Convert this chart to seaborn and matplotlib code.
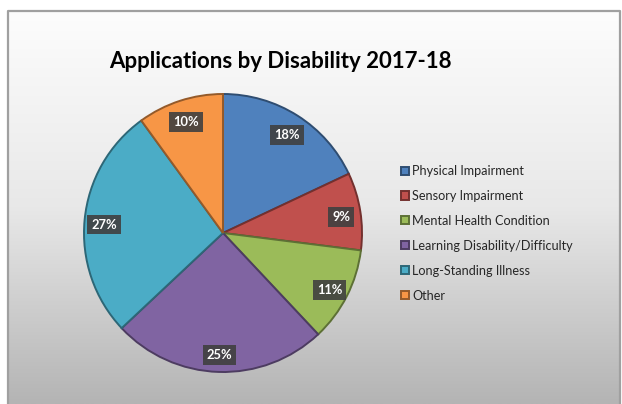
import numpy as np
import matplotlib
matplotlib.use("Agg")
import matplotlib.pyplot as plt
import matplotlib.colors as mcolors
import seaborn as sns

categories = [
    "Physical Impairment",
    "Sensory Impairment",
    "Mental Health Condition",
    "Learning Disability/Difficulty",
    "Long-Standing Illness",
    "Other",
]
shares = [18, 9, 11, 25, 27, 10]
title = "Applications by Disability 2017-18"

sns.set_theme(style="white")
plt.rcParams["font.family"] = ["Lato", "DejaVu Sans"]

palette = sns.color_palette(["#4F81BD", "#C0504D", "#9BBB59", "#8064A2", "#4BACC6", "#F79646"])

W, H = 622, 404
fig = plt.figure(figsize=(W / 100, H / 100), dpi=100)
fig.patch.set_facecolor("white")

# chart panel with vertical gray gradient and thin border
bg = fig.add_axes([0, 0, 1, 1], zorder=-5)
bg.set_xlim(0, W)
bg.set_ylim(H, 0)
bg.axis("off")
grad = np.linspace(0, 1, 256)[:, None]
cmap = mcolors.LinearSegmentedColormap.from_list("panel", ["#fdfdfd", "#e8e8e8", "#b4b4b4"])
bg.imshow(grad, extent=[8, 620, H, 11], cmap=cmap, aspect="auto", zorder=0)
bg.plot([8, 8, 620, 620], [H, 11, 11, H], color="#a0a0a0", lw=1.6, zorder=1)

# pie
cx, cy, r = 223, 233, 139
box = 141
ax = fig.add_axes([(cx - box) / W, (H - cy - box) / H, 2 * box / W, 2 * box / H])

edge_cols = [tuple(np.array(c) * 0.6) for c in palette]
wedges, _ = ax.pie(
    shares,
    colors=palette,
    startangle=90,
    counterclock=False,
    radius=r / box,
    wedgeprops=dict(linewidth=1.4),
)
for w, ec in zip(wedges, edge_cols):
    w.set_edgecolor(ec)
ax.set_xlim(-1, 1)
ax.set_ylim(-1, 1)
ax.axis("off")

# percentage labels in dark boxes
rad = r / box * 0.86
for w, v in zip(wedges, shares):
    ang = np.deg2rad((w.theta1 + w.theta2) / 2)
    ax.text(rad * np.cos(ang), rad * np.sin(ang) - 0.02, f"{v}%",
            ha="center", va="center", color="white", fontsize=9.3, fontweight="bold",
            bbox=dict(boxstyle="square,pad=0.3", fc="#404040", ec="none", alpha=0.9))

fig.text(280 / W, 1 - 62 / H, title, ha="center", va="center",
         fontsize=16, fontweight="bold", color="black")

leg = fig.legend(wedges, categories, loc="upper left",
                 bbox_to_anchor=(396 / W, 1 - 160 / H),
                 frameon=False, fontsize=9.1, handlelength=0.6, handleheight=0.6,
                 handletextpad=0.3, labelspacing=1.02, borderaxespad=0)
for t in leg.get_texts():
    t.set_color("#262626")

fig.savefig("out.png", dpi=100)
